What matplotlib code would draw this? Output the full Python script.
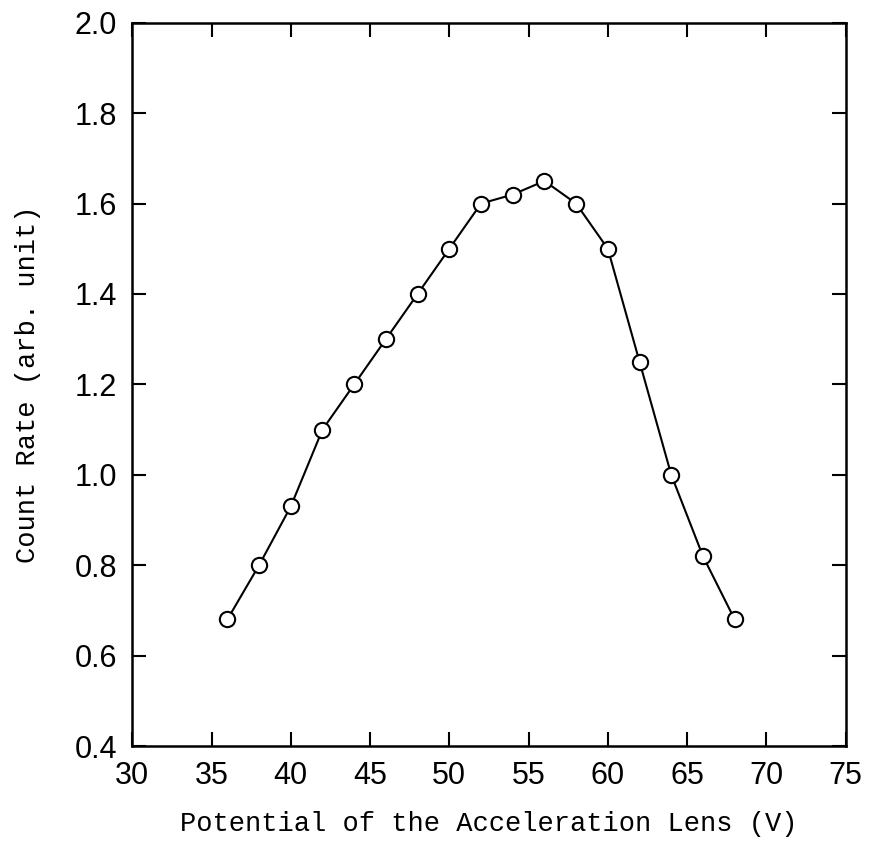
import matplotlib.pyplot as plt

# Count rate vs. acceleration lens potential
potential = [36, 38, 40, 42, 44, 46, 48, 50, 52, 54, 56, 58, 60, 62, 64, 66, 68]
count_rate = [0.68, 0.80, 0.93, 1.10, 1.20, 1.30, 1.40, 1.50, 1.60, 1.62,
              1.65, 1.60, 1.50, 1.25, 1.00, 0.82, 0.68]

x_ticks = [30, 35, 40, 45, 50, 55, 60, 65, 70, 75]
y_ticks = [0.4, 0.6, 0.8, 1.0, 1.2, 1.4, 1.6, 1.8, 2.0]

fig = plt.figure(figsize=(8.7, 8.43), dpi=100)
ax = fig.add_axes([0.152, 0.115, 0.82, 0.858])

ax.plot(potential, count_rate, color='black', linewidth=1.5,
        marker='o', markersize=11, markerfacecolor='white',
        markeredgecolor='black', markeredgewidth=1.5)

ax.set_xlim(30, 75)
ax.set_ylim(0.4, 2.0)
ax.set_xticks(x_ticks)
ax.set_yticks(y_ticks)
ax.set_yticklabels([f'{v:.1f}' for v in y_ticks])

ax.tick_params(direction='in', length=10, width=1.5, top=True, right=True,
               labelsize=22, pad=11)
for lab in ax.get_xticklabels() + ax.get_yticklabels():
    lab.set_family('Liberation Sans')
for spine in ax.spines.values():
    spine.set_linewidth(1.8)

ax.set_xlabel('Potential of the Acceleration Lens (V)', family='Liberation Mono',
              fontsize=19.5, labelpad=14)
ax.set_ylabel('Count Rate (arb. unit)', family='Liberation Mono',
              fontsize=19.5, labelpad=24)

fig.savefig('out.png', dpi=100)
